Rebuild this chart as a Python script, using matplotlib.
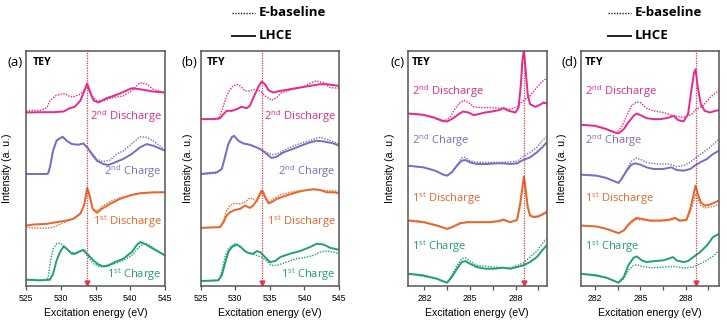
import matplotlib.pyplot as plt
from matplotlib.ticker import MultipleLocator
from matplotlib.lines import Line2D

plt.rcParams['font.family'] = ['Liberation Sans', 'DejaVu Sans']
plt.rcParams['mathtext.fontset'] = 'custom'
plt.rcParams['mathtext.rm'] = 'Open Sans'

# ---- panel (a): O K-edge TEY ----
a_2d_x = [525, 527, 529, 530.4, 531.3, 532.0, 532.8, 533.3, 533.8, 534.2, 534.7, 535.4, 536.6, 537.6, 538.5, 540.2, 541.4, 543.3, 545]
a_2d_y = [56.5, 56.6, 56.6, 56.8, 57.8, 58.2, 60.0, 62.5, 65.2, 62.8, 60.2, 59.5, 60.8, 61.5, 62.2, 63.8, 63.5, 62.8, 62.5]
a_2d_bx = [525, 527.25, 528.0, 528.45, 529.2, 529.9, 530.6, 531.1, 531.8, 532.8, 533.5, 533.8, 534.3, 535.2, 536.1, 537.55, 539.0, 540.2, 541.4, 542.35, 543.3, 545]
a_2d_by = [57.0, 57.2, 58.0, 60.0, 61.5, 62.0, 62.2, 61.5, 61.2, 62.0, 63.5, 64.2, 62.0, 60.0, 60.0, 61.0, 61.5, 63.0, 65.5, 65.0, 63.5, 62.5]

a_2c_x = [525, 528.0, 528.2, 528.45, 528.9, 529.4, 529.9, 530.3, 530.85, 531.6, 532.5, 533.25, 533.8, 534.45, 535.2, 536.1, 536.85, 537.8, 539.0, 540.2, 541.4, 542.35, 543.3, 545]
a_2c_y = [38.0, 38.0, 38.2, 40.0, 45.0, 48.0, 48.8, 49.2, 48.0, 47.0, 46.8, 47.2, 46.0, 44.0, 42.0, 41.0, 40.7, 41.5, 42.5, 44.0, 46.0, 47.0, 46.5, 45.0]
a_2c_bx = [525, 528.0, 528.2, 528.45, 528.9, 529.4, 529.9, 530.3, 530.85, 531.6, 532.5, 533.25, 533.8, 535.2, 536.1, 537.1, 538.05, 539.0, 540.2, 541.4, 542.35, 543.3, 545]
a_2c_by = [38.0, 38.0, 38.4, 40.5, 45.5, 48.2, 48.8, 49.0, 48.0, 47.0, 46.8, 47.0, 46.2, 42.5, 41.7, 42.2, 44.0, 45.0, 47.0, 49.2, 49.0, 48.0, 45.2]

a_1d_x = [525, 526.05, 528.0, 529.4, 530.85, 531.8, 532.8, 533.35, 533.65, 533.8, 534.1, 534.6, 535.2, 535.9, 537.1, 538.5, 540.2, 541.4, 543.3, 545]
a_1d_y = [22.5, 22.8, 23.0, 23.5, 24.0, 24.5, 26.0, 28.5, 32.0, 33.8, 32.0, 27.5, 26.3, 27.5, 29.0, 30.5, 31.7, 32.2, 32.5, 32.5]
a_1d_bx = [525, 526.05, 528.0, 528.9, 530.85, 531.8, 532.8, 533.35, 533.65, 533.8, 534.1, 534.6, 535.2, 535.9, 537.1, 538.5, 540.2, 541.4, 543.3, 545]
a_1d_by = [22.0, 21.7, 21.7, 22.0, 23.7, 24.5, 26.0, 28.5, 31.5, 33.2, 31.5, 27.5, 26.8, 28.2, 29.7, 30.8, 31.7, 32.2, 32.4, 32.5]

a_1c_x = [525, 527.0, 528.45, 528.9, 529.4, 529.9, 530.4, 530.85, 531.6, 532.05, 532.8, 533.25, 533.8, 534.7, 535.4, 536.1, 536.85, 537.8, 539.0, 540.2, 540.9, 541.4, 542.1, 543.3, 545]
a_1c_y = [6.2, 6.0, 6.2, 8.0, 12.0, 14.5, 16.2, 15.5, 14.0, 14.0, 14.8, 15.2, 14.0, 12.0, 10.8, 10.2, 10.5, 11.5, 12.5, 14.5, 16.5, 17.5, 17.0, 15.5, 13.5]
a_1c_bx = [525, 528.0, 528.2, 528.45, 528.9, 529.4, 529.9, 530.4, 531.1, 531.8, 532.5, 533.25, 533.8, 534.7, 535.65, 536.6, 537.8, 539.0, 540.2, 541.15, 541.9, 542.6, 543.3, 545]
a_1c_by = [6.2, 6.0, 7.0, 11.0, 15.5, 17.0, 17.2, 16.5, 15.0, 14.2, 14.5, 14.8, 13.5, 11.0, 10.0, 10.2, 11.0, 12.0, 13.5, 15.8, 17.0, 16.8, 15.8, 13.5]

# ---- panel (b): O K-edge TFY ----
b_2d_x = [525, 526.8, 527.8, 528.3, 528.75, 529.5, 530.2, 530.9, 531.65, 532.1, 532.85, 533.35, 533.8, 534.3, 534.8, 535.5, 536.5, 537.9, 539.35, 540.8, 542.25, 543.2, 545]
b_2d_y = [54.5, 54.5, 54.8, 56.0, 57.0, 57.0, 57.5, 58.2, 57.8, 58.5, 62.0, 64.2, 65.8, 65.0, 63.2, 62.5, 63.0, 63.5, 64.0, 64.5, 65.0, 65.0, 64.5]
b_2d_bx = [525, 527.55, 528.05, 528.75, 529.5, 530.2, 530.7, 531.4, 532.1, 532.85, 533.6, 534.3, 535.25, 536.0, 536.7, 538.4, 539.85, 541.05, 541.75, 542.75, 543.7, 545]
b_2d_by = [54.5, 54.5, 57.0, 61.5, 64.2, 65.0, 64.5, 63.0, 63.0, 63.5, 63.0, 61.5, 60.2, 61.0, 62.5, 63.5, 64.2, 65.5, 66.0, 65.5, 64.0, 63.8]

b_2c_x = [525, 527.3, 528.05, 528.5, 529.0, 529.5, 529.8, 530.45, 531.15, 532.1, 533.1, 533.8, 534.55, 535.25, 536.0, 536.95, 537.9, 538.9, 539.85, 540.8, 541.75, 542.75, 544.2, 545]
b_2c_y = [38.0, 38.5, 39.5, 43.0, 47.0, 49.0, 49.5, 48.0, 47.2, 46.8, 46.0, 45.2, 44.0, 42.8, 43.2, 44.5, 45.2, 46.0, 46.8, 47.5, 48.0, 47.8, 47.2, 46.5]
b_2c_bx = [525, 527.3, 528.05, 528.5, 529.0, 529.5, 529.8, 530.45, 531.15, 532.1, 533.1, 533.8, 534.55, 535.25, 536.0, 536.95, 537.9, 538.9, 539.85, 540.8, 541.75, 542.25, 543.2, 545]
b_2c_by = [37.8, 38.2, 39.5, 43.2, 47.2, 49.2, 49.6, 48.0, 47.2, 46.7, 46.0, 45.4, 44.5, 43.8, 44.0, 45.0, 46.0, 46.8, 47.5, 48.0, 48.8, 49.0, 48.5, 47.0]

b_1d_x = [525, 527.8, 528.3, 528.75, 529.25, 529.95, 530.7, 531.4, 532.1, 532.6, 533.1, 533.6, 533.8, 534.05, 534.45, 534.8, 535.25, 536.0, 536.95, 538.4, 539.85, 541.3, 542.25, 543.2, 544.2, 545]
b_1d_y = [21.8, 22.0, 23.5, 25.5, 26.5, 27.2, 27.5, 28.5, 27.8, 28.5, 30.0, 32.2, 33.0, 32.5, 30.5, 29.2, 29.5, 30.5, 31.2, 32.2, 33.0, 33.4, 33.2, 32.5, 32.5, 32.2]
b_1d_bx = [525, 527.8, 528.3, 528.75, 529.25, 529.95, 530.7, 531.4, 532.1, 532.6, 533.1, 533.6, 533.8, 534.3, 534.8, 535.5, 536.5, 538.4, 541.3, 543.2, 545]
b_1d_by = [21.8, 22.0, 24.0, 27.0, 28.5, 29.2, 29.0, 29.5, 30.8, 30.5, 29.5, 31.5, 32.2, 31.0, 29.7, 30.5, 31.7, 32.7, 33.4, 33.0, 32.8]

b_1c_x = [525, 527.55, 528.05, 528.5, 529.0, 529.5, 530.2, 530.7, 531.4, 531.9, 532.6, 533.1, 533.6, 534.3, 535.0, 535.75, 536.5, 537.9, 539.35, 540.8, 541.75, 542.75, 543.7, 545]
b_1c_y = [5.8, 6.0, 7.5, 11.0, 14.5, 16.0, 16.8, 16.2, 14.8, 14.2, 14.0, 14.8, 14.5, 13.0, 11.5, 11.8, 13.0, 14.0, 14.8, 16.0, 17.0, 16.8, 15.8, 15.2]
b_1c_bx = [525, 527.55, 528.05, 528.5, 529.0, 529.5, 529.95, 530.7, 531.4, 532.1, 533.1, 533.8, 534.55, 535.25, 536.0, 537.45, 538.9, 540.3, 541.3, 542.25, 543.2, 544.2, 545]
b_1c_by = [5.8, 6.0, 8.5, 13.0, 15.5, 16.5, 17.0, 16.0, 14.8, 14.2, 13.5, 13.0, 11.8, 10.5, 10.5, 11.5, 12.5, 13.0, 13.5, 14.5, 14.8, 14.5, 14.0]

# ---- panel (c): C K-edge TEY ----
c_2d_x = [280.9, 281.93, 282.6, 283.15, 283.5, 283.9, 284.25, 284.55, 284.9, 285.25, 285.55, 286.0, 286.45, 286.9, 287.2, 287.55, 288.0, 288.2, 288.35, 288.45, 288.55, 288.65, 288.8, 288.95, 289.3, 289.6, 289.85, 290.05]
c_2d_y = [56.2, 55.8, 55.0, 54.0, 53.8, 54.8, 56.0, 56.8, 56.5, 55.7, 56.0, 56.5, 56.8, 57.2, 57.8, 57.0, 56.5, 58.0, 65.0, 72.0, 75.5, 70.0, 62.0, 59.0, 58.2, 58.8, 59.5, 59.2]
c_2d_bx = [280.9, 281.93, 282.8, 283.35, 283.7, 284.0, 284.35, 284.6, 284.9, 285.25, 285.65, 286.35, 286.9, 287.2, 287.65, 288.1, 288.5, 288.95, 289.4, 289.75, 290.05]
c_2d_by = [56.2, 55.8, 54.8, 54.0, 55.2, 57.5, 59.5, 60.2, 59.5, 58.2, 58.0, 58.0, 57.8, 57.8, 57.5, 58.2, 60.0, 61.5, 64.0, 65.8, 66.8]

c_2c_x = [280.9, 281.93, 282.7, 283.25, 283.5, 283.8, 284.15, 284.45, 284.7, 285.0, 285.45, 286.1, 286.75, 287.2, 287.65, 288.1, 288.5, 288.95, 289.4, 289.75, 290.05]
c_2c_y = [40.5, 40.0, 39.0, 37.8, 37.5, 38.5, 40.5, 42.0, 42.2, 41.5, 41.0, 41.0, 41.2, 41.2, 41.0, 41.2, 42.2, 43.0, 44.5, 46.0, 47.5]
c_2c_bx = [280.9, 281.93, 282.7, 283.25, 283.5, 283.8, 284.15, 284.45, 284.7, 285.0, 285.45, 286.1, 287.2, 288.1, 288.5, 288.95, 289.4, 289.75, 290.05]
c_2c_by = [40.5, 40.0, 39.0, 37.8, 37.5, 38.5, 40.8, 42.8, 43.0, 42.0, 41.5, 41.5, 41.5, 41.8, 43.2, 44.5, 46.0, 48.0, 49.2]

c_1d_x = [280.9, 281.93, 282.8, 283.5, 283.9, 284.35, 284.8, 285.45, 286.35, 286.9, 287.2, 287.65, 288.1, 288.3, 288.45, 288.55, 288.65, 288.8, 288.95, 289.2, 289.5, 289.85, 290.05]
c_1d_y = [24.0, 23.5, 22.5, 21.5, 22.2, 23.2, 23.5, 23.5, 23.5, 23.8, 24.2, 23.5, 24.2, 29.0, 34.0, 37.3, 34.0, 28.0, 25.5, 25.0, 25.2, 26.0, 26.5]
c_1d_by = [24.2, 23.7, 22.6, 21.4, 22.0, 23.0, 23.4, 23.5, 23.6, 24.0, 24.5, 23.6, 24.0, 28.5, 33.5, 36.5, 33.5, 28.5, 25.8, 25.2, 25.5, 26.2, 26.8]

c_1c_x = [280.9, 281.93, 282.8, 283.35, 283.5, 283.8, 284.15, 284.45, 284.7, 285.0, 285.45, 286.0, 286.55, 287.2, 287.65, 288.1, 288.5, 288.95, 289.4, 289.75, 290.05]
c_1c_y = [8.0, 7.5, 6.5, 5.5, 5.3, 7.0, 9.5, 11.5, 11.8, 11.0, 10.0, 9.5, 9.5, 9.8, 9.5, 10.0, 10.5, 11.5, 13.0, 15.0, 16.5]
c_1c_bx = [280.9, 282.8, 283.5, 283.8, 284.15, 284.45, 284.7, 285.0, 285.45, 286.55, 287.65, 288.5, 288.95, 289.4, 289.75, 290.05]
c_1c_by = [8.0, 6.5, 5.3, 7.5, 10.5, 12.5, 12.8, 11.8, 10.5, 10.0, 9.7, 11.2, 13.0, 14.8, 17.0, 18.5]

# ---- panel (d): C K-edge TFY ----
d_2d_x = [281.05, 282.0, 282.75, 283.3, 283.55, 283.9, 284.2, 284.55, 284.75, 285.1, 285.4, 285.85, 286.3, 286.75, 287.2, 287.5, 287.85, 288.15, 288.4, 288.55, 288.65, 288.8, 289.0, 289.25, 289.6, 289.95, 290.2]
d_2d_y = [52.8, 52.5, 51.5, 50.5, 50.2, 51.5, 53.5, 55.5, 56.2, 55.5, 54.8, 54.5, 54.5, 54.8, 55.5, 54.2, 53.8, 56.0, 64.0, 68.5, 69.5, 64.0, 59.0, 57.0, 56.5, 57.0, 57.2]
d_2d_bx = [281.05, 282.0, 282.75, 283.45, 283.75, 284.1, 284.4, 284.75, 285.0, 285.4, 285.85, 286.5, 287.2, 287.85, 288.4, 288.7, 289.15, 289.6, 290.2]
d_2d_by = [52.8, 52.5, 51.5, 50.5, 52.2, 55.5, 58.5, 59.7, 59.5, 57.8, 57.0, 56.5, 55.5, 55.0, 56.0, 57.5, 58.5, 61.0, 63.2]

d_2c_x = [281.05, 282.1, 282.75, 283.55, 283.75, 284.1, 284.4, 284.65, 285.0, 285.4, 285.85, 286.5, 287.05, 287.4, 287.85, 288.3, 288.6, 288.95, 289.4, 289.8, 290.2]
d_2c_y = [37.8, 37.5, 36.8, 35.3, 36.5, 39.0, 40.8, 41.2, 40.8, 40.0, 39.5, 39.5, 40.0, 39.2, 39.0, 39.5, 40.5, 41.5, 42.5, 44.0, 45.0]
d_2c_bx = [281.05, 282.1, 282.75, 283.55, 283.75, 284.1, 284.4, 284.75, 285.1, 285.4, 286.05, 286.95, 287.4, 287.85, 288.3, 288.7, 289.15, 289.6, 290.2]
d_2c_by = [37.8, 37.5, 36.8, 35.3, 36.5, 39.5, 41.8, 42.8, 42.2, 41.5, 41.0, 41.0, 40.2, 40.5, 41.5, 43.0, 44.5, 46.0, 48.5]

d_1d_x = [281.05, 282.1, 282.75, 283.55, 283.9, 284.2, 284.55, 284.75, 285.1, 285.65, 286.3, 286.85, 287.3, 287.6, 288.05, 288.3, 288.5, 288.65, 288.8, 289.0, 289.25, 289.6, 289.95, 290.2]
d_1d_y = [22.5, 22.2, 21.5, 20.2, 21.0, 22.8, 24.2, 24.8, 24.5, 24.0, 24.0, 24.2, 24.8, 24.0, 24.2, 27.5, 31.5, 34.5, 32.0, 29.5, 28.5, 28.8, 29.5, 30.0]
d_1d_by = [22.5, 22.2, 21.5, 20.2, 21.0, 22.5, 23.8, 24.3, 24.2, 23.8, 23.8, 24.0, 24.5, 23.8, 24.0, 26.5, 29.5, 32.0, 30.5, 28.5, 27.8, 28.0, 28.5, 28.8]

d_1c_x = [281.05, 282.1, 282.75, 283.55, 283.9, 284.2, 284.55, 284.75, 285.1, 285.4, 285.95, 286.5, 286.85, 287.15, 287.4, 287.85, 288.15, 288.5, 288.95, 289.4, 289.8, 290.2]
d_1c_y = [8.0, 7.5, 6.8, 5.3, 7.0, 10.5, 12.8, 13.2, 12.0, 11.5, 11.8, 12.0, 12.5, 13.0, 12.0, 11.5, 11.8, 13.0, 14.5, 16.5, 19.0, 20.0]
d_1c_bx = [281.05, 282.75, 283.55, 283.9, 284.2, 284.55, 284.75, 285.1, 285.65, 286.5, 287.2, 287.85, 288.5, 288.95, 289.4, 289.8, 290.2]
d_1c_by = [8.0, 6.8, 5.3, 6.5, 9.0, 10.5, 10.7, 10.2, 9.8, 10.0, 10.2, 9.7, 10.0, 11.0, 12.0, 13.2, 15.0]

panel_letters = ['(a)', '(b)', '(c)', '(d)']
panel_modes = ['TEY', 'TFY', 'TEY', 'TFY']
marker_energy = [533.8, 533.8, 288.55, 288.65]
state_labels = ['2$^{\\rm nd}$ Discharge', '2$^{\\rm nd}$ Charge', '1$^{\\rm st}$ Discharge', '1$^{\\rm st}$ Charge']
colors = ['#E8288A', '#7C6CC6', '#EC6428', '#1FA076']
red = '#E8383F'

panels = [
    [(a_2d_x, a_2d_y, a_2d_bx, a_2d_by), (a_2c_x, a_2c_y, a_2c_bx, a_2c_by),
     (a_1d_x, a_1d_y, a_1d_bx, a_1d_by), (a_1c_x, a_1c_y, a_1c_bx, a_1c_by)],
    [(b_2d_x, b_2d_y, b_2d_bx, b_2d_by), (b_2c_x, b_2c_y, b_2c_bx, b_2c_by),
     (b_1d_x, b_1d_y, b_1d_bx, b_1d_by), (b_1c_x, b_1c_y, b_1c_bx, b_1c_by)],
    [(c_2d_x, c_2d_y, c_2d_bx, c_2d_by), (c_2c_x, c_2c_y, c_2c_bx, c_2c_by),
     (c_1d_x, c_1d_y, c_1d_x, c_1d_by), (c_1c_x, c_1c_y, c_1c_bx, c_1c_by)],
    [(d_2d_x, d_2d_y, d_2d_bx, d_2d_by), (d_2c_x, d_2c_y, d_2c_bx, d_2c_by),
     (d_1d_x, d_1d_y, d_1d_x, d_1d_by), (d_1c_x, d_1c_y, d_1c_bx, d_1c_by)],
]

W, H = 727, 326
fig = plt.figure(figsize=(W / 100, H / 100), dpi=100)

# axes boxes in pixels: left, right
boxes = [(26, 165), (200.7, 339), (407.7, 546.7), (580.7, 719)]
top_px, bot_px = 51, 286
xlims = [(525, 545), (525, 545), (280.9, 290.05), (281.05, 290.2)]
ylab_off = [-0.10, -0.056, -0.091, -0.099]
label_pos_ab = [0.72, 0.486, 0.273, 0.047]
label_pos_cd = [0.826, 0.617, 0.370, 0.166]

for i in range(4):
    l, r = boxes[i]
    ax = fig.add_axes([l / W, 1 - bot_px / H, (r - l) / W, (bot_px - top_px) / H])
    for j, (sx, sy, dx, dy) in enumerate(panels[i]):
        ax.plot(dx, dy, color=colors[j], lw=1.0, ls=(0, (1, 1)))
        ax.plot(sx, sy, color=colors[j], lw=1.4)
    ax.axvline(marker_energy[i], color=red, lw=0.9, ls=(0, (1, 1)))
    ax.plot([marker_energy[i]], [5.2], marker='v', color=red, ms=3.5, clip_on=False)
    ax.set_xlim(*xlims[i])
    ax.set_ylim(4.3, 75)
    ax.set_yticks([])
    if i < 2:
        ax.xaxis.set_major_locator(MultipleLocator(5))
    else:
        ax.xaxis.set_major_locator(MultipleLocator(3))
        ax.xaxis.set_minor_locator(MultipleLocator(1.5))
    ax.tick_params(axis='x', which='both', direction='out', length=3, width=0.9,
                   color='#555555', labelsize=6.2, pad=2.5)
    for sp in ax.spines.values():
        sp.set_color('#555555')
        sp.set_linewidth(1.1)
    ax.set_xlabel('Excitation energy (eV)', fontsize=7.6, labelpad=3.5)
    ax.set_ylabel('Intensity (a. u.)', fontsize=7.6)
    ax.yaxis.set_label_coords(ylab_off[i], 0.5)
    ax.text(0.045 if i < 2 else 0.03, 0.95, panel_modes[i], transform=ax.transAxes,
            fontsize=7.6, fontweight='bold', family='Open Sans', va='center', ha='left')
    fig.text((l - 3) / W, 1 - 62 / H, panel_letters[i], fontsize=9.5,
             family='Open Sans', ha='right', va='center')
    for j in range(4):
        if i < 2:
            ax.text(0.975, label_pos_ab[j], state_labels[j], transform=ax.transAxes,
                    color=colors[j], fontsize=8, family='Open Sans', ha='right', va='center')
        else:
            ax.text(0.03, label_pos_cd[j], state_labels[j], transform=ax.transAxes,
                    color=colors[j], fontsize=8, family='Open Sans', ha='left', va='center')

# legends above panels (b) and (d)
for x0 in (232, 608):
    fig.add_artist(Line2D([x0 / W, (x0 + 23) / W], [1 - 12.7 / H] * 2, color='#222222',
                          lw=1.0, ls=(0, (1, 1))))
    fig.add_artist(Line2D([x0 / W, (x0 + 23) / W], [1 - 35.7 / H] * 2, color='#222222', lw=1.4))
    fig.text((x0 + 27) / W, 1 - 12.7 / H, 'E-baseline', fontsize=9.5, fontweight='bold',
             family='Open Sans', va='center', ha='left')
    fig.text((x0 + 27) / W, 1 - 35.7 / H, 'LHCE', fontsize=9.5, fontweight='bold',
             family='Open Sans', va='center', ha='left')

fig.savefig('out.png', dpi=100)
